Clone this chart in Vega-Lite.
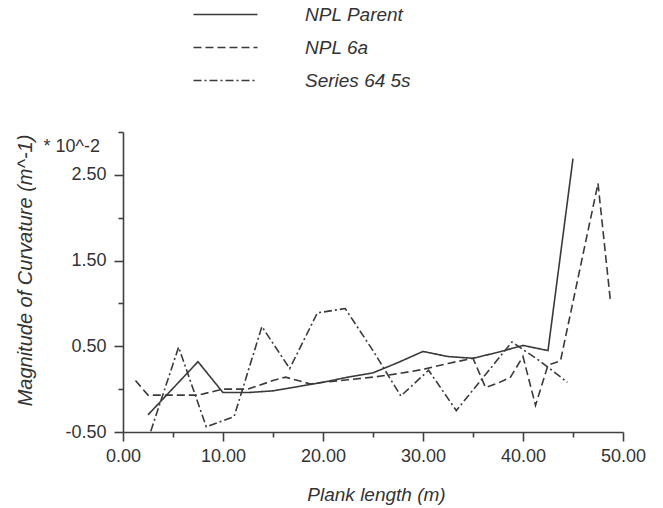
{
  "$schema": "https://vega.github.io/schema/vega-lite/v6.json",
  "width": 500,
  "height": 300,
  "autosize": "none",
  "padding": {"left": 123, "top": 132, "right": 40, "bottom": 76},
  "background": "white",
  "config": {
    "view": {"stroke": null},
    "font": "Liberation Sans",
    "axis": {"grid": false, "domainColor": "#404040", "domainWidth": 1.6, "tickColor": "#404040", "tickWidth": 1.6, "labelColor": "#333333", "titleColor": "#333333", "labelFont": "Liberation Sans", "titleFont": "Liberation Sans", "titleFontStyle": "italic", "titleFontWeight": "normal"}
  },
  "datasets": {
    "curves": [
      {"series": "NPL Parent", "x": 2.5, "y": -0.30},
      {"series": "NPL Parent", "x": 5.0, "y": 0.01},
      {"series": "NPL Parent", "x": 7.5, "y": 0.32},
      {"series": "NPL Parent", "x": 10.0, "y": -0.04},
      {"series": "NPL Parent", "x": 12.5, "y": -0.04},
      {"series": "NPL Parent", "x": 15.0, "y": -0.02},
      {"series": "NPL Parent", "x": 17.5, "y": 0.03},
      {"series": "NPL Parent", "x": 20.0, "y": 0.08},
      {"series": "NPL Parent", "x": 22.5, "y": 0.14},
      {"series": "NPL Parent", "x": 25.0, "y": 0.19},
      {"series": "NPL Parent", "x": 27.5, "y": 0.31},
      {"series": "NPL Parent", "x": 30.0, "y": 0.44},
      {"series": "NPL Parent", "x": 32.5, "y": 0.38},
      {"series": "NPL Parent", "x": 35.0, "y": 0.36},
      {"series": "NPL Parent", "x": 37.5, "y": 0.43},
      {"series": "NPL Parent", "x": 40.0, "y": 0.51},
      {"series": "NPL Parent", "x": 42.5, "y": 0.45},
      {"series": "NPL Parent", "x": 45.0, "y": 2.69},
      {"series": "NPL 6a", "x": 1.25, "y": 0.10},
      {"series": "NPL 6a", "x": 2.5, "y": -0.07},
      {"series": "NPL 6a", "x": 5.0, "y": -0.07},
      {"series": "NPL 6a", "x": 7.5, "y": -0.07},
      {"series": "NPL 6a", "x": 10.0, "y": 0.0},
      {"series": "NPL 6a", "x": 12.5, "y": 0.0},
      {"series": "NPL 6a", "x": 15.0, "y": 0.10},
      {"series": "NPL 6a", "x": 16.25, "y": 0.14},
      {"series": "NPL 6a", "x": 17.5, "y": 0.10},
      {"series": "NPL 6a", "x": 18.75, "y": 0.06},
      {"series": "NPL 6a", "x": 20.0, "y": 0.08},
      {"series": "NPL 6a", "x": 22.5, "y": 0.11},
      {"series": "NPL 6a", "x": 25.0, "y": 0.14},
      {"series": "NPL 6a", "x": 27.5, "y": 0.18},
      {"series": "NPL 6a", "x": 30.0, "y": 0.23},
      {"series": "NPL 6a", "x": 32.5, "y": 0.30},
      {"series": "NPL 6a", "x": 35.0, "y": 0.36},
      {"series": "NPL 6a", "x": 36.25, "y": 0.02},
      {"series": "NPL 6a", "x": 37.5, "y": 0.07},
      {"series": "NPL 6a", "x": 38.75, "y": 0.14},
      {"series": "NPL 6a", "x": 40.0, "y": 0.38},
      {"series": "NPL 6a", "x": 41.25, "y": -0.19},
      {"series": "NPL 6a", "x": 42.5, "y": 0.28},
      {"series": "NPL 6a", "x": 43.75, "y": 0.33},
      {"series": "NPL 6a", "x": 47.5, "y": 2.40},
      {"series": "NPL 6a", "x": 48.75, "y": 1.02},
      {"series": "Series 64 5s", "x": 2.78, "y": -0.49},
      {"series": "Series 64 5s", "x": 5.56, "y": 0.49},
      {"series": "Series 64 5s", "x": 8.33, "y": -0.44},
      {"series": "Series 64 5s", "x": 11.11, "y": -0.32},
      {"series": "Series 64 5s", "x": 13.89, "y": 0.73},
      {"series": "Series 64 5s", "x": 16.67, "y": 0.24},
      {"series": "Series 64 5s", "x": 19.44, "y": 0.89},
      {"series": "Series 64 5s", "x": 22.22, "y": 0.94},
      {"series": "Series 64 5s", "x": 25.0, "y": 0.45},
      {"series": "Series 64 5s", "x": 27.78, "y": -0.08},
      {"series": "Series 64 5s", "x": 30.56, "y": 0.22},
      {"series": "Series 64 5s", "x": 33.33, "y": -0.25},
      {"series": "Series 64 5s", "x": 36.11, "y": 0.15},
      {"series": "Series 64 5s", "x": 38.89, "y": 0.55},
      {"series": "Series 64 5s", "x": 41.67, "y": 0.33},
      {"series": "Series 64 5s", "x": 44.44, "y": 0.08}
    ],
    "note": [{"x": 0, "y": 3.0, "t": "* 10^-2"}]
  },
  "layer": [
    {
      "data": {"name": "curves"},
      "mark": {"type": "line", "strokeWidth": 1.6, "color": "#3a3a3a"},
      "encoding": {
        "x": {
          "field": "x", "type": "quantitative",
          "scale": {"domain": [0, 50], "nice": false, "zero": false},
          "axis": {
            "title": "Plank length (m)",
            "values": [0, 5, 10, 15, 20, 25, 30, 35, 40, 45, 50],
            "labelExpr": "datum.value % 10 === 0 ? format(datum.value, '.2f') : ''",
            "tickSize": {"condition": {"test": "datum.value % 10 === 0", "value": 9}, "value": 5},
            "labelFontSize": 18,
            "labelPadding": 6,
            "labelFlush": false,
            "labelOverlap": false,
            "titleFontSize": 19,
            "titleX": 253,
            "titleY": 62,
            "titleBaseline": "middle"
          }
        },
        "y": {
          "field": "y", "type": "quantitative",
          "scale": {"domain": [-0.5, 3.0], "nice": false, "zero": false},
          "axis": {
            "title": "Magnitude of Curvature (m^-1)",
            "values": [-0.5, 0, 0.5, 1, 1.5, 2, 2.5, 3],
            "labelExpr": "abs(round(datum.value * 2)) % 2 === 1 ? replace(format(datum.value, '.2f'), '\u2212', '-') : ''",
            "tickSize": {"condition": {"test": "abs(round(datum.value * 2)) % 2 === 1", "value": 9}, "value": 5},
            "labelFontSize": 18,
            "labelPadding": 8,
            "labelFlush": false,
            "labelOverlap": false,
            "titleFontSize": 20,
            "titleX": -98,
            "titleY": 138,
            "titleBaseline": "middle",
            "titleAngle": -90
          }
        },
        "strokeDash": {
          "field": "series", "type": "nominal",
          "scale": {"domain": ["NPL Parent", "NPL 6a", "Series 64 5s"], "range": [[1, 0], [8, 4], [8, 3, 2, 3]]},
          "legend": {
            "title": null,
            "orient": "none",
            "legendX": 93,
            "legendY": -127,
            "direction": "vertical",
            "padding": 0,
            "symbolType": "M-4,0H4",
            "symbolSize": 256,
            "symbolStrokeColor": "#3a3a3a",
            "symbolStrokeWidth": 1.6,
            "labelFontSize": 19,
            "labelFontStyle": "italic",
            "labelColor": "#333333",
            "labelOffset": 70,
            "rowPadding": 13,
            "labelLimit": 300
          }
        }
      }
    },
    {
      "data": {"name": "note"},
      "mark": {"type": "text", "align": "right", "baseline": "middle", "dx": -23, "dy": 15, "fontSize": 18, "color": "#333333", "font": "Liberation Sans"},
      "encoding": {
        "x": {"field": "x", "type": "quantitative"},
        "y": {"field": "y", "type": "quantitative"},
        "text": {"field": "t"}
      }
    }
  ]
}
